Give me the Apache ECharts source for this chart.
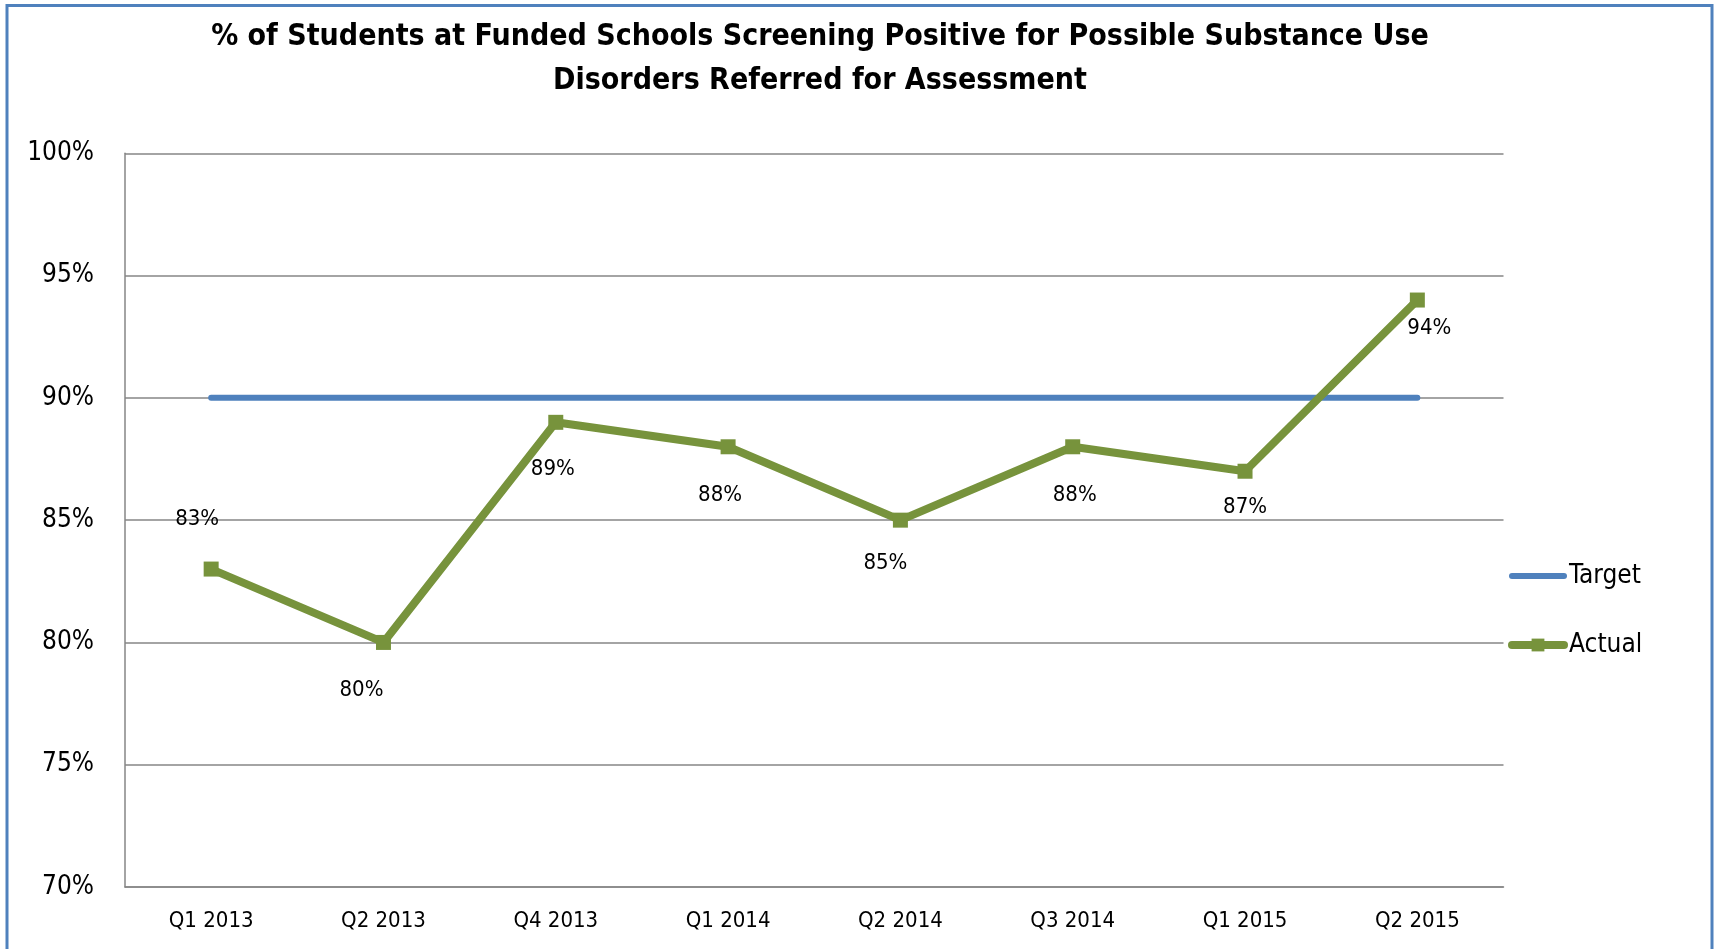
<!DOCTYPE html>
<html>
<head>
<meta charset="utf-8">
<script src="https://cdn.jsdelivr.net/npm/echarts@6/dist/echarts.min.js"></script>
<style>
html,body{margin:0;padding:0;background:#fff;}
#chart{width:1717px;height:949px;}
</style>
</head>
<body>
<div id="chart"></div>
<script>
const categories = ['Q1 2013','Q2 2013','Q4 2013','Q1 2014','Q2 2014','Q3 2014','Q1 2015','Q2 2015'];
const targetValues = [90,90,90,90,90,90,90,90];
const actualValues = [83,80,89,88,85,88,87,94];
const yTicks = {min:70, max:100, interval:5};
const titleText = '% of Students at Funded Schools Screening Positive for Possible Substance Use\nDisorders Referred for Assessment';

// label placement (style only, px offsets from point centre)
const labelOffsets = [[-14,-50],[-22,48],[-3,47],[-8,49],[-15,43],[2,49],[0,36],[12,28]];

const FONT = '"DejaVu Sans Condensed", "DejaVu Sans", sans-serif';
const chart = echarts.init(document.getElementById('chart'));

const actualData = actualValues.map((v,i)=>({
  value:v,
  label:{position:'inside', offset:labelOffsets[i]}
}));

chart.setOption({
  backgroundColor:'#ffffff',
  animation:false,
  title:{
    text:titleText,
    left:815, top:10, textAlign:'center',
    textStyle:{fontFamily:FONT, fontWeight:'bold', fontSize:30, lineHeight:44, color:'#000'}
  },
  graphic:[{
    type:'rect', shape:{x:7,y:5.5,width:1705,height:960},
    style:{fill:'none', stroke:'#4F81BD', lineWidth:3}, silent:true
  }],
  legend:{
    orient:'vertical', left:1508, top:563, padding:0,
    itemWidth:52, itemHeight:16, itemGap:43,
    textStyle:{fontFamily:FONT, fontSize:26, color:'#000'},
    data:[
      {name:'Target', itemStyle:{opacity:0}, lineStyle:{width:6, cap:'round'}},
      {name:'Actual', lineStyle:{width:8, cap:'round'}}
    ]
  },
  grid:{left:125, right:213.5, top:153.3, bottom:62},
  xAxis:{
    type:'category', data:categories, boundaryGap:true,
    axisLine:{lineStyle:{color:'#868686', width:1.5}},
    axisTick:{show:false},
    axisLabel:{fontFamily:FONT, fontSize:22, color:'#000', margin:23}
  },
  yAxis:{
    type:'value', min:yTicks.min, max:yTicks.max, interval:yTicks.interval,
    axisLine:{show:true, lineStyle:{color:'#868686', width:1.5}},
    axisTick:{show:false},
    splitLine:{lineStyle:{color:'#868686', width:1.5}},
    axisLabel:{fontFamily:FONT, fontSize:26, color:'#000', margin:31, formatter:'{value}%'}
  },
  series:[
    {
      name:'Target', type:'line', data:targetValues,
      symbol:'none', lineStyle:{color:'#4F81BD', width:6, cap:'round'},
      itemStyle:{color:'#4F81BD'}, z:2
    },
    {
      name:'Actual', type:'line', data:actualData,
      symbol:'rect', symbolSize:15,
      lineStyle:{color:'#77933C', width:8, join:'round'},
      itemStyle:{color:'#77933C'},
      label:{show:true, formatter:'{c}%', fontFamily:FONT, fontSize:22, color:'#000'},
      z:3
    }
  ]
});
</script>
</body>
</html>
